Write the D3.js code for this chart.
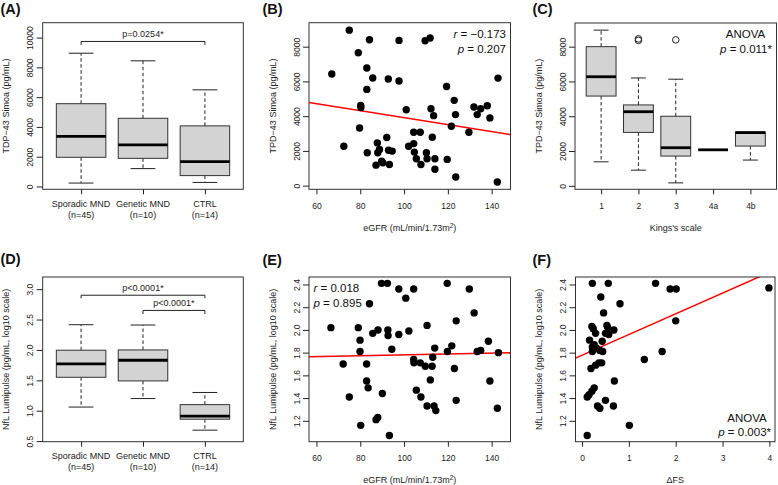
<!DOCTYPE html>
<html lang="en">
<head>
<meta charset="UTF-8" />
<title>TDP-43 and NfL panels</title>
<script src="https://d3js.org/d3.v7.min.js"></script>
<style>
  body { margin: 0; background: #fff; }
  svg { display: block; font-family: "Liberation Sans", Arial, sans-serif; }
  .tick text { font-size: 8.5px; fill: #222; }
  .tick line { stroke: #222; }
</style>
</head>
<body>
<svg id="fig" width="778" height="485"></svg>
<script>
// ---- data ----
const groupsMND = ["Sporadic MND", "Genetic MND", "CTRL"];
const groupsN = ["(n=45)", "(n=10)", "(n=14)"];
// five numbers per box: [lower whisker, Q1, median, Q3, upper whisker]
const boxTDP = [[230, 1960, 3360, 5560, 8950], [1200, 1890, 2800, 4580, 8440], [270, 730, 1670, 4070, 6490]];
const boxNfL = [[1.06, 1.55, 1.77, 1.995, 2.415], [1.20, 1.49, 1.83, 2.00, 2.41], [0.68, 0.86, 0.91, 1.10, 1.30]];
const kingsStages = ["1", "2", "3", "4a", "4b"];
const boxKings = [[1380, 5160, 6270, 8000, 8950], [900, 3070, 4260, 4650, 6200], [170, 1710, 2190, 4000, 6130], [2070, 2070, 2070, 2070, 2070], [1480, 2285, 3060, 3090, 3090]];
const kingsOutlierStage = [2, 2, 3];
const kingsOutlierValue = [8450, 8360, 8390];

// significance brackets: [from group, to group, bar value, tip value, label]
const bracketsA = [[1, 3, 9740, 9510, "p=0.0254*"]];
const bracketsD = [[1, 3, 2.90, 2.85, "p<0.0001*"], [2, 3, 2.65, 2.59, "p<0.0001*"]];

const eGFR_B = [67.0, 75.0, 72.5, 79.1, 79.7, 80.2, 80.3, 83.0, 83.0, 83.2, 84.2, 85.7, 87.8, 88.0, 88.8, 87.2, 89.8, 90.3, 92.1, 92.8, 92.9, 93.3, 94.6, 97.7, 97.7, 101.0, 102.1, 104.4, 104.4, 104.7, 105.6, 107.4, 107.7, 109.6, 110.2, 110.5, 111.9, 112.3, 112.9, 113.5, 114.1, 114.1, 119.4, 119.7, 121.6, 122.9, 123.5, 123.6, 129.6, 131.9, 133.4, 135.0, 138.0, 139.2, 142.6, 142.9];
const tdp_B = [6430, 8950, 2270, 7650, 3320, 4620, 4500, 6770, 5540, 1890, 8400, 6200, 2460, 1890, 2080, 1180, 1410, 1320, 2770, 6140, 2040, 1220, 1990, 8360, 6020, 4370, 2270, 2420, 3070, 1930, 1550, 3070, 1220, 8340, 1890, 1550, 8500, 4430, 2790, 4030, 1550, 940, 5710, 1510, 3420, 4910, 4090, 500, 3070, 4530, 4090, 4430, 4600, 3900, 210, 6190];
const fitB = [5937, -20.2];   // intercept, slope
const statsB = ["−0.173", "0.207"];

const eGFR_E = [66.6, 72.2, 75.0, 79.1, 79.9, 79.9, 80.2, 82.9, 82.9, 83.6, 84.2, 85.7, 87.2, 88.0, 88.1, 89.7, 90.1, 92.4, 92.6, 92.7, 93.3, 94.4, 97.6, 97.6, 100.8, 102.2, 104.4, 104.4, 104.5, 105.6, 107.4, 107.7, 109.7, 110.5, 110.5, 112.0, 112.8, 113.1, 114.0, 113.7, 114.5, 119.7, 119.8, 121.8, 123.0, 123.8, 123.8, 129.8, 132.0, 133.4, 135.0, 138.5, 139.2, 142.6, 143.1];
const nfl_E = [2.02, 1.70, 1.41, 2.02, 1.91, 1.81, 1.16, 1.70, 1.55, 1.49, 2.23, 1.97, 1.21, 1.23, 2.00, 2.41, 1.44, 2.41, 2.00, 1.95, 1.07, 1.83, 2.36, 1.96, 2.28, 1.99, 2.36, 1.74, 1.71, 1.47, 1.71, 1.41, 1.68, 2.04, 1.33, 1.56, 1.68, 1.76, 1.84, 1.33, 1.29, 2.41, 1.81, 1.86, 1.66, 2.08, 1.38, 2.36, 2.15, 1.81, 1.82, 1.90, 1.55, 1.31, 1.80];
const fitE = [1.742, 0.00038];
const statsE = ["0.018", "0.895"];

const dfs_F = [0.22, 0.56, 0.40, 0.46, 0.81, 0.21, 0.24, 0.29, 0.16, 0.43, 0.53, 0.55, 0.50, 0.57, 0.68, 0.22, 0.26, 0.31, 0.22, 0.38, 0.44, 0.36, 0.42, 0.29, 0.19, 0.69, 0.26, 0.21, 0.15, 0.11, 0.33, 0.38, 0.50, 0.67, 0.11, 1.01, 1.33, 1.71, 1.57, 1.88, 2.01, 2.00, 3.99];
const nfl_F = [2.41, 2.41, 2.29, 2.15, 2.23, 2.03, 2.01, 1.97, 1.91, 1.90, 2.04, 2.02, 1.97, 1.96, 2.00, 1.85, 1.87, 1.84, 1.81, 1.82, 1.81, 1.71, 1.71, 1.69, 1.66, 1.55, 1.49, 1.46, 1.43, 1.41, 1.33, 1.31, 1.38, 1.33, 1.07, 1.16, 1.74, 1.81, 2.41, 2.36, 2.36, 2.08, 2.37];
const fitF = [1.777, 0.1824];
const pvalC = "0.011*";
const pvalF = "0.003*";

const ticksTDP10k = [0, 2000, 4000, 6000, 8000, 10000];
const ticksTDP8k = [0, 2000, 4000, 6000, 8000];
const ticksNfLbox = [0.5, 1.0, 1.5, 2.0, 2.5, 3.0];
const ticksNfL = [1.2, 1.4, 1.6, 1.8, 2.0, 2.2, 2.4];
const ticksGFR = [60, 80, 100, 120, 140];
const ticksDFS = [0, 1, 2, 3, 4];

// ---- drawing ----
const svg = d3.select("#fig");
const INK = "#222";

function panel(id, frame, xDom, yDom) {
  const g = svg.append("g");
  const x = d3.scaleLinear().domain(xDom).range([frame[0], frame[1]]);
  const y = d3.scaleLinear().domain(yDom).range([frame[3], frame[2]]);
  svg.append("clipPath").attr("id", "clip" + id).append("rect")
    .attr("x", frame[0]).attr("y", frame[2])
    .attr("width", frame[1] - frame[0]).attr("height", frame[3] - frame[2]);
  return { g, x, y, frame, id };
}

function drawFrame(p) {
  const f = p.frame;
  p.g.append("rect").attr("x", f[0]).attr("y", f[2])
    .attr("width", f[1] - f[0]).attr("height", f[3] - f[2])
    .attr("fill", "none").attr("stroke", "#333").attr("stroke-width", 1);
}

function yAxis(p, ticks, fmt, title) {
  const ax = p.g.append("g").attr("transform", `translate(${p.frame[0]},0)`)
    .call(d3.axisLeft(p.y).tickValues(ticks).tickFormat(fmt).tickSize(6).tickSizeOuter(0));
  ax.select(".domain").remove();
  ax.selectAll("text").attr("x", null).attr("dy", null)
    .attr("text-anchor", "middle").attr("transform", "translate(-9.5,0) rotate(-90)");
  const cy = (p.frame[2] + p.frame[3]) / 2;
  p.g.append("text").attr("transform", `translate(${p.frame[0] - 33.5},${cy}) rotate(-90)`)
    .attr("text-anchor", "middle").attr("font-size", 9).attr("fill", INK).text(title);
}

function xAxis(p, ticks, fmt) {
  const ax = p.g.append("g").attr("transform", `translate(0,${p.frame[3]})`)
    .call(d3.axisBottom(p.x).tickValues(ticks).tickFormat(fmt).tickSize(5).tickSizeOuter(0));
  ax.select(".domain").remove();
  ax.selectAll("text").attr("y", 19.5).attr("dy", null);
  return ax;
}

function xTitle(p, parts) {
  const t = p.g.append("text").attr("x", (p.frame[0] + p.frame[1]) / 2).attr("y", p.frame[3] + 41.5)
    .attr("text-anchor", "middle").attr("font-size", 9).attr("fill", INK);
  parts.forEach(s => {
    const ts = t.append("tspan").text(s[0]);
    if (s[1] === "sup") ts.attr("font-size", 6.5).attr("baseline-shift", "super");
  });
}

function tag(label, x, y) {
  svg.append("text").attr("x", x).attr("y", y).attr("font-size", 14.5)
    .attr("font-weight", "bold").attr("fill", "#111").text(label);
}

function boxes(p, stats) {
  const hw = (p.x(1.4) - p.x(1));
  stats.forEach((s, i) => {
    const cx = p.x(i + 1);
    const g = p.g.append("g");
    if (s[4] > s[3]) {
      g.append("line").attr("x1", cx).attr("x2", cx).attr("y1", p.y(s[3])).attr("y2", p.y(s[4]))
        .attr("stroke", INK).attr("stroke-dasharray", "3.5,2.5");
      g.append("line").attr("x1", cx - hw / 2).attr("x2", cx + hw / 2).attr("y1", p.y(s[4])).attr("y2", p.y(s[4]))
        .attr("stroke", INK);
    }
    if (s[0] < s[1]) {
      g.append("line").attr("x1", cx).attr("x2", cx).attr("y1", p.y(s[1])).attr("y2", p.y(s[0]))
        .attr("stroke", INK).attr("stroke-dasharray", "3.5,2.5");
      g.append("line").attr("x1", cx - hw / 2).attr("x2", cx + hw / 2).attr("y1", p.y(s[0])).attr("y2", p.y(s[0]))
        .attr("stroke", INK);
    }
    g.append("rect").attr("x", cx - hw).attr("width", 2 * hw)
      .attr("y", p.y(s[3])).attr("height", p.y(s[1]) - p.y(s[3]))
      .attr("fill", "#d3d3d3").attr("stroke", "#333").attr("stroke-width", 1);
    g.append("line").attr("x1", cx - hw).attr("x2", cx + hw).attr("y1", p.y(s[2])).attr("y2", p.y(s[2]))
      .attr("stroke", "#000").attr("stroke-width", 2.8);
  });
}

function brackets(p, list) {
  list.forEach(b => {
    const x1 = p.x(b[0]), x2 = p.x(b[1]), yb = p.y(b[2]), yt = p.y(b[3]);
    p.g.append("path").attr("d", `M${x1},${yt}V${yb}H${x2}V${yt}`)
      .attr("fill", "none").attr("stroke", INK).attr("stroke-width", 1);
    p.g.append("text").attr("x", (x1 + x2) / 2).attr("y", yb - 4).attr("text-anchor", "middle")
      .attr("font-size", 9).attr("fill", INK).text(b[4]);
  });
}

function scatter(p, xs, ys, fit) {
  const dom = p.x.domain();
  p.g.append("line").attr("clip-path", `url(#clip${p.id})`)
    .attr("x1", p.x(dom[0])).attr("y1", p.y(fit[0] + fit[1] * dom[0]))
    .attr("x2", p.x(dom[1])).attr("y2", p.y(fit[0] + fit[1] * dom[1]))
    .attr("stroke", "#f00").attr("stroke-width", 1.5);
  p.g.append("g").selectAll("circle").data(xs).join("circle")
    .attr("cx", d => p.x(d)).attr("cy", (d, i) => p.y(ys[i])).attr("r", 3.7).attr("fill", "#000");
}

function statText(p, x, y, anchor, parts) {
  const t = p.g.append("text").attr("x", x).attr("y", y).attr("text-anchor", anchor)
    .attr("font-size", 11.5).attr("fill", "#111");
  parts.forEach(s => {
    const ts = t.append("tspan").text(s[0]);
    if (s[1]) ts.attr("font-style", "italic");
  });
}

// (A)
const pA = panel("A", [42.7, 243.3, 22.7, 189.3], [0.38, 3.62], [-190, 11000]);
boxes(pA, boxTDP);
brackets(pA, bracketsA);
drawFrame(pA);
yAxis(pA, ticksTDP10k, d3.format("d"), "TDP−43 Simoa (pg/mL)");
const axA = xAxis(pA, [1, 2, 3], () => "");
groupsMND.forEach((name, i) => {
  const t = pA.g.append("text").attr("text-anchor", "middle").attr("font-size", 9).attr("fill", INK);
  t.append("tspan").attr("x", pA.x(i + 1)).attr("y", pA.frame[3] + 17.3).text(name);
  t.append("tspan").attr("x", pA.x(i + 1)).attr("y", pA.frame[3] + 28.3).text(groupsN[i]);
});
tag("(A)", 0.5, 13.8);

// (B)
const pB = panel("B", [309, 510.5, 22.7, 189.3], [56.6, 148.6], [-210, 9380]);
scatter(pB, eGFR_B, tdp_B, fitB);
drawFrame(pB);
yAxis(pB, ticksTDP8k, d3.format("d"), "TPD−43 Simoa (pg/mL)");
xAxis(pB, ticksGFR, d3.format("d"));
xTitle(pB, [["eGFR (mL/min/1.73m"], ["2", "sup"], [")"]]);
statText(pB, 506, 37.5, "end", [["r", true], [" = " + statsB[0]]]);
statText(pB, 506, 52.5, "end", [["p", true], [" = " + statsB[1]]]);
tag("(B)", 262.5, 13.8);

// (C)
const pC = panel("C", [575, 776.5, 23, 189.3], [0.3, 5.7], [-200, 9360]);
boxes(pC, boxKings);
pC.g.append("g").selectAll("circle").data(kingsOutlierStage).join("circle")
  .attr("cx", d => pC.x(d)).attr("cy", (d, i) => pC.y(kingsOutlierValue[i])).attr("r", 3.3)
  .attr("fill", "none").attr("stroke", INK).attr("stroke-width", 1);
drawFrame(pC);
yAxis(pC, ticksTDP8k, d3.format("d"), "TPD−43 Simoa (pg/mL)");
xAxis(pC, [1, 2, 3, 4, 5], d => kingsStages[d - 1]);
xTitle(pC, [["Kings's scale"]]);
statText(pC, 745.5, 38.3, "middle", [["ANOVA"]]);
statText(pC, 772, 53.3, "end", [["p", true], [" = " + pvalC]]);
tag("(C)", 532.5, 13.8);

// (D)
const pD = panel("D", [42.7, 243.3, 277, 441.7], [0.38, 3.62], [0.49, 3.2]);
boxes(pD, boxNfL);
brackets(pD, bracketsD);
drawFrame(pD);
yAxis(pD, ticksNfLbox, d3.format(".1f"), "NfL Lumipulse (pg/mL, log10 scale)");
xAxis(pD, [1, 2, 3], () => "");
groupsMND.forEach((name, i) => {
  const t = pD.g.append("text").attr("text-anchor", "middle").attr("font-size", 9).attr("fill", INK);
  t.append("tspan").attr("x", pD.x(i + 1)).attr("y", pD.frame[3] + 17.3).text(name);
  t.append("tspan").attr("x", pD.x(i + 1)).attr("y", pD.frame[3] + 28.3).text(groupsN[i]);
});
tag("(D)", 0.5, 264);

// (E)
const pE = panel("E", [309, 510.5, 277, 441.7], [56.6, 148.6], [1.016, 2.466]);
scatter(pE, eGFR_E, nfl_E, fitE);
drawFrame(pE);
yAxis(pE, ticksNfL, d3.format(".1f"), "NfL Lumipulse (pg/mL, log10 scale)");
xAxis(pE, ticksGFR, d3.format("d"));
xTitle(pE, [["eGFR (mL/min/1.73m"], ["2", "sup"], [")"]]);
statText(pE, 313.5, 291.5, "start", [["r", true], [" = " + statsE[0]]]);
statText(pE, 313.5, 306.5, "start", [["p", true], [" = " + statsE[1]]]);
tag("(E)", 262.5, 264.5);

// (F)
const pF = panel("F", [575.5, 775, 277, 441.7], [-0.14, 4.12], [1.016, 2.466]);
scatter(pF, dfs_F, nfl_F, fitF);
drawFrame(pF);
yAxis(pF, ticksNfL, d3.format(".1f"), "NfL Lumipulse (pg/mL, log10 scale)");
xAxis(pF, ticksDFS, d3.format("d"));
xTitle(pF, [["ΔFS"]]);
statText(pF, 747, 421.5, "middle", [["ANOVA"]]);
statText(pF, 771, 435.5, "end", [["p", true], [" = " + pvalF]]);
tag("(F)", 532.5, 264.5);
</script>
</body>
</html>
